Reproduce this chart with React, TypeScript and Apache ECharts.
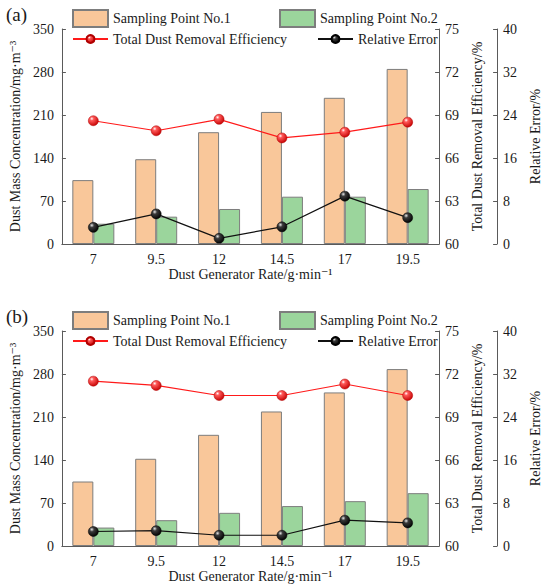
import React, { useEffect, useRef } from "react";
import * as echarts from "echarts";

const categories = ["7", "9.5", "12", "14.5", "17", "19.5"];

// Panel (a)
const pointA1 = [104, 138, 182, 215, 238, 285];
const pointA2 = [33, 44.5, 57, 77, 77, 89.5];
const effA = [68.6, 67.9, 68.7, 67.4, 67.8, 68.5];
const errA = [3.1, 5.6, 1.05, 3.2, 8.9, 4.9];

// Panel (b)
const pointB1 = [105, 142, 181, 219, 250, 288];
const pointB2 = [30, 42, 54, 65, 73, 86];
const effB = [71.5, 71.2, 70.5, 70.5, 71.3, 70.5];
const errB = [2.7, 2.85, 2.0, 2.0, 4.8, 4.3];

const panelLabels = ["(a)", "(b)"];
const names = {
  p1: "Sampling Point No.1",
  p2: "Sampling Point No.2",
  eff: "Total Dust Removal Efficiency",
  err: "Relative Error",
};

const FONT = "'Liberation Serif', 'DejaVu Serif', serif";
const AXIS_COLOR = "#5a5a5a";
const TEXT_COLOR = "#1a1a1a";

export default function App() {
  const ref = useRef<HTMLDivElement>(null);

  useEffect(() => {
    if (!ref.current) return;
    const chart = echarts.init(ref.current, undefined, { renderer: "svg" });

    const gridTops = [29, 331];
    const gridH = 215;
    const redBall = new echarts.graphic.RadialGradient(0.35, 0.3, 0.75, [
      { offset: 0, color: "#ffffff" },
      { offset: 0.25, color: "#ff5a5a" },
      { offset: 1, color: "#c40000" },
    ]);
    const blackBall = new echarts.graphic.RadialGradient(0.35, 0.3, 0.75, [
      { offset: 0, color: "#e8e8e8" },
      { offset: 0.3, color: "#3a3a3a" },
      { offset: 1, color: "#000000" },
    ]);

    const grids: any[] = [];
    const xAxes: any[] = [];
    const yAxes: any[] = [];
    const series: any[] = [];
    const legends: any[] = [];
    const graphics: any[] = [];

    const data = [
      [pointA1, pointA2, effA, errA],
      [pointB1, pointB2, effB, errB],
    ];

    const axisBase = {
      axisLine: { show: true, lineStyle: { color: AXIS_COLOR, width: 1 } },
      axisTick: { show: true, inside: true, length: 4, lineStyle: { color: AXIS_COLOR } },
      splitLine: { show: false },
      axisLabel: { color: TEXT_COLOR, fontFamily: FONT, fontSize: 14 },
      nameTextStyle: { color: TEXT_COLOR, fontFamily: FONT, fontSize: 14 },
      nameLocation: "middle",
      nameRotate: 90,
    };

    gridTops.forEach((top, i) => {
      grids.push({ left: 61, top, width: 388, height: gridH });
      xAxes.push({
        type: "category",
        gridIndex: i,
        data: categories,
        axisLine: { show: true, lineStyle: { color: AXIS_COLOR, width: 1 } },
        axisTick: { show: false },
        axisLabel: { color: TEXT_COLOR, fontFamily: FONT, fontSize: 14, margin: 8 },
        name: "Dust Generator Rate/g·min⁻¹",
        nameLocation: "middle",
        nameGap: 23,
        nameTextStyle: { color: TEXT_COLOR, fontFamily: FONT, fontSize: 14 },
      });
      yAxes.push({
        ...axisBase,
        type: "value",
        gridIndex: i,
        position: "left",
        min: 0,
        max: 350,
        interval: 70,
        name: "Dust Mass Concentration/mg·m⁻³",
        nameGap: 32,
        axisLabel: { ...axisBase.axisLabel, margin: 8 },
      });
      yAxes.push({
        ...axisBase,
        type: "value",
        gridIndex: i,
        position: "right",
        min: 60,
        max: 75,
        interval: 3,
        name: "Total Dust Removal Efficiency/%",
        nameGap: 27,
        axisLabel: { ...axisBase.axisLabel, margin: 6 },
      });
      yAxes.push({
        ...axisBase,
        type: "value",
        gridIndex: i,
        position: "right",
        offset: 58,
        min: 0,
        max: 40,
        interval: 8,
        name: "Relative Error/%",
        nameGap: 26,
        axisLabel: { ...axisBase.axisLabel, margin: 6 },
      });

      const [b1, b2, eff, err] = data[i];
      series.push({
        type: "bar",
        name: names.p1,
        xAxisIndex: i,
        yAxisIndex: i * 3,
        data: b1,
        barWidth: 21,
        barGap: "0%",
        itemStyle: { color: "#f9c79a", borderColor: "#7d7d7d", borderWidth: 1 },
        z: 2,
      });
      series.push({
        type: "bar",
        name: names.p2,
        xAxisIndex: i,
        yAxisIndex: i * 3,
        data: b2,
        barWidth: 21,
        barGap: "0%",
        itemStyle: { color: "#9bd59c", borderColor: "#7d7d7d", borderWidth: 1 },
        z: 2,
      });
      series.push({
        type: "line",
        name: names.eff,
        xAxisIndex: i,
        yAxisIndex: i * 3 + 1,
        data: eff,
        symbol: "circle",
        symbolSize: 10,
        lineStyle: { color: "#ff1a1a", width: 1.2 },
        itemStyle: { color: redBall, borderColor: "#b00000", borderWidth: 0.5 },
        z: 5,
      });
      series.push({
        type: "line",
        name: names.err,
        xAxisIndex: i,
        yAxisIndex: i * 3 + 2,
        data: err,
        symbol: "circle",
        symbolSize: 10,
        lineStyle: { color: "#111111", width: 1.2 },
        itemStyle: { color: blackBall, borderColor: "#000", borderWidth: 0.5 },
        z: 5,
      });

      const dy = top - 29;
      const legText = { color: TEXT_COLOR, fontFamily: FONT, fontSize: 14 };
      legends.push({
        data: [{ name: names.p1, icon: "rect" }], left: 72, top: 9 + dy, padding: 0,
        itemWidth: 35, itemHeight: 17, textStyle: legText, selectedMode: false,
      });
      legends.push({
        data: [{ name: names.p2, icon: "rect" }], left: 279, top: 9 + dy, padding: 0,
        itemWidth: 35, itemHeight: 17, textStyle: legText, selectedMode: false,
      });
      legends.push({
        data: [names.eff], left: 72, top: 32 + dy, padding: 0,
        itemWidth: 35, itemHeight: 10, textStyle: legText, selectedMode: false,
      });
      legends.push({
        data: [names.err], left: 317, top: 32 + dy, padding: 0,
        itemWidth: 35, itemHeight: 10, textStyle: legText, selectedMode: false,
      });

      graphics.push({
        type: "text",
        left: 6,
        top: 5 + dy,
        style: { text: panelLabels[i], fill: TEXT_COLOR, font: `19px ${FONT}` },
      });
    });

    chart.setOption({
      animation: false,
      backgroundColor: "#ffffff",
      grid: grids,
      xAxis: xAxes,
      yAxis: yAxes,
      series,
      legend: legends,
      graphic: graphics,
    });

    return () => chart.dispose();
  }, []);

  return (
    <div
      ref={ref}
      style={{ position: "fixed", left: 0, top: 0, width: 550, height: 585 }}
    />
  );
}
